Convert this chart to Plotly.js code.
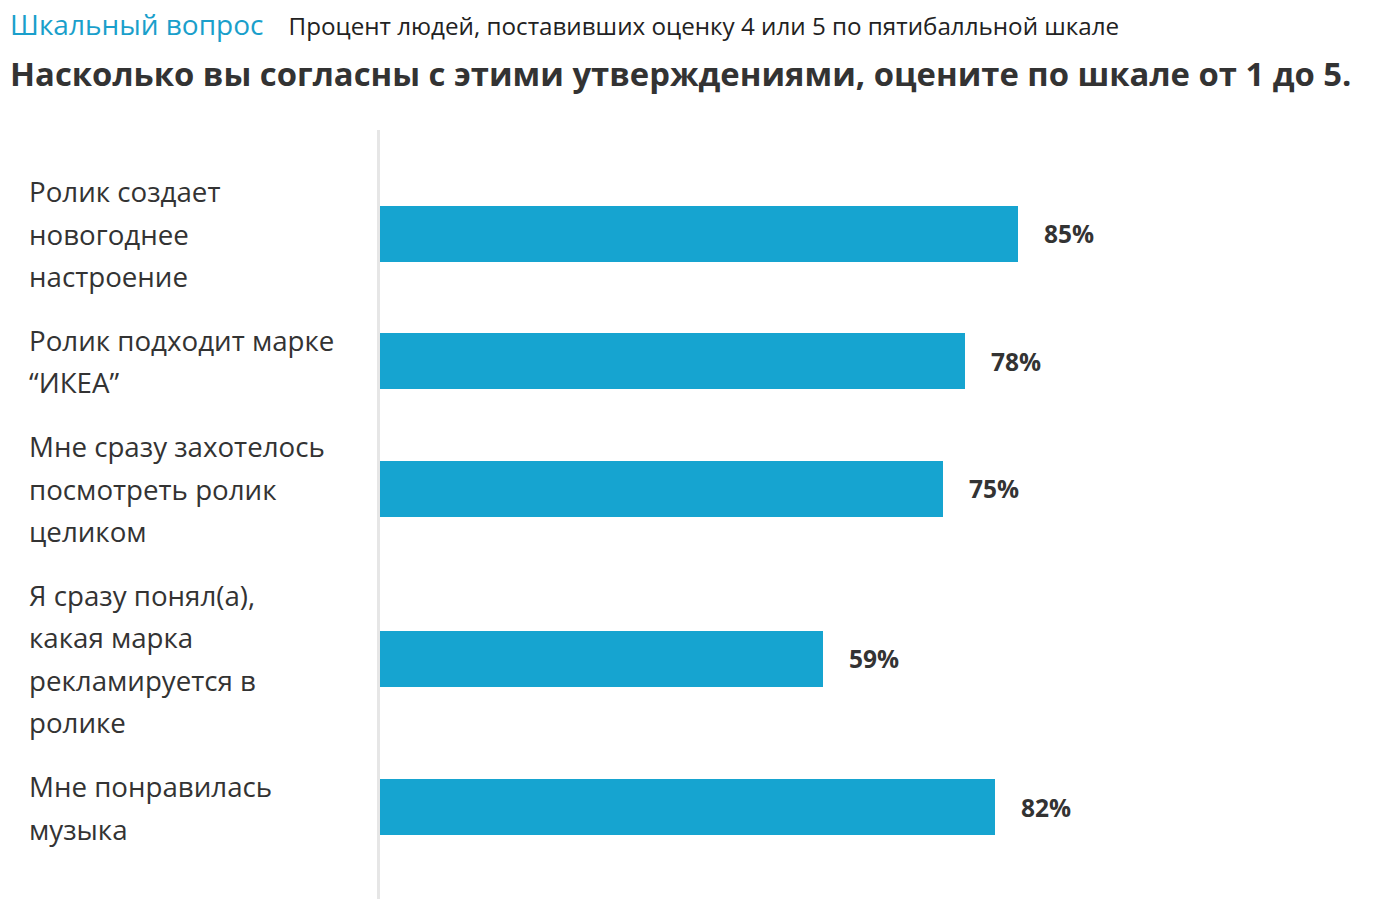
<!DOCTYPE html>
<html>
<head>
<meta charset="utf-8">
<script src="https://cdn.plot.ly/plotly-3.0.1.min.js"></script>
<style>html,body{margin:0;padding:0;background:#fff;}#chart{width:1373px;height:899px;}</style>
</head>
<body>
<div id="chart"></div>
<script>
// ---- data ----
const categoryLines = [
  ["Ролик создает", "новогоднее", "настроение"],
  ["Ролик подходит марке", "“ИКЕА”"],
  ["Мне сразу захотелось", "посмотреть ролик", "целиком"],
  ["Я сразу понял(а),", "какая марка", "рекламируется в", "ролике"],
  ["Мне понравилась", "музыка"]
];
const values = [85, 78, 75, 59, 82];
const valueLabels = ["85%", "78%", "75%", "59%", "82%"];
const kicker = "Шкальный вопрос";
const subtitle = "Процент людей, поставивших оценку 4 или 5 по пятибалльной шкале";
const titleText = "Насколько вы согласны с этими утверждениями, оцените по шкале от 1 до 5.";

// ---- layout constants (in "line" units; 1 unit = one label line) ----
const FONT = "'Open Sans', sans-serif";
const TEXT = "#333333";
const BAR = "#16a4d0";
const topPad = 0.94, gap = 0.5;
const plotTop = 130, plotH = 899 - 130, linePx = 42.5;

const centers = [];
let pos = topPad;
categoryLines.forEach((lines, i) => {
  if (i > 0) pos += gap;
  centers.push(pos + lines.length / 2);
  pos += lines.length;
});

const annotations = [];
categoryLines.forEach((lines, i) => {
  lines.forEach((ln, j) => {
    annotations.push({
      xref: "paper", yref: "y", x: (27 - 380) / 993, y: centers[i] + (j - (lines.length - 1) / 2),
      xanchor: "left", yanchor: "middle", showarrow: false, align: "left",
      text: ln, font: {family: FONT, size: 27.7, color: TEXT}
    });
  });
  annotations.push({
    xref: "x", yref: "y", x: values[i], y: centers[i], xanchor: "left", yanchor: "middle",
    xshift: 24, showarrow: false, text: "<b>" + valueLabels[i] + "</b>",
    font: {family: FONT, size: 24.5, color: TEXT}
  });
});
annotations.push({
  xref: "paper", yref: "paper", x: (8 - 380) / 993, y: 1 + (130 - 24) / plotH,
  xanchor: "left", yanchor: "middle", showarrow: false, align: "left",
  text: '<span style="color:#1a9fcb;font-size:28px">' + kicker + '</span>\u00a0\u00a0\u00a0\u00a0' + subtitle,
  font: {family: FONT, size: 24.2, color: "#222"}
});
annotations.push({
  xref: "paper", yref: "paper", x: (8 - 380) / 993, y: 1 + (130 - 73) / plotH,
  xanchor: "left", yanchor: "middle", showarrow: false, align: "left",
  text: "<b>" + titleText + "</b>",
  font: {family: FONT, size: 32.8, color: TEXT}
});

const trace = {
  type: "bar", orientation: "h",
  x: values, y: centers, width: 56 / linePx,
  marker: {color: BAR}, hoverinfo: "skip"
};

const layout = {
  width: 1373, height: 899,
  margin: {l: 380, r: 0, t: plotTop, b: 0, pad: 0},
  paper_bgcolor: "#fff", plot_bgcolor: "#fff",
  showlegend: false,
  xaxis: {range: [0, 993 / 7.5], visible: false, fixedrange: true},
  yaxis: {range: [plotH / linePx, 0], showgrid: false, zeroline: false, showticklabels: false,
          ticks: "", showline: true, linecolor: "#e6e6e6", linewidth: 3, fixedrange: true},
  annotations: annotations,
  bargap: 0
};

Plotly.newPlot("chart", [trace], layout, {displayModeBar: false, staticPlot: true});
</script>
</body>
</html>
